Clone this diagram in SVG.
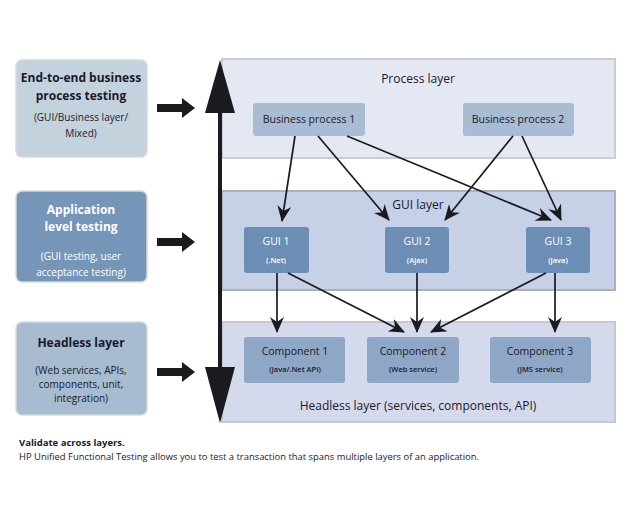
<svg xmlns="http://www.w3.org/2000/svg" width="631" height="522" viewBox="0 0 631 522">
<style>
text{font-family:"Open Sans","Liberation Sans",sans-serif;text-anchor:middle;fill:#1a1a2a}
.h{font-weight:bold;font-size:12px}
.s{font-size:10px}
.lbl{font-size:12px}
.n{font-size:10.5px}
.ns{font-size:7.5px;font-weight:600}
.w{fill:#ffffff}
.con{stroke:#1b1b1f;stroke-width:1.7;fill:none;marker-end:url(#ah)}
.lb{stroke:#d5d9de;stroke-width:1.5}
</style>
<defs>
<marker id="ah" viewBox="0 0 16 14" refX="15" refY="7" markerWidth="16" markerHeight="14" markerUnits="userSpaceOnUse" orient="auto">
<path d="M0,0 L16,7 L0,14 L5,7 z" fill="#1b1b1f"/>
</marker>
</defs>
<rect width="631" height="522" fill="#ffffff"/>
<g id="panel-process">
<rect x="222" y="59" width="393" height="99" fill="#e3e8f2" stroke="#c9cdd4" stroke-width="2"/>
<text class="lbl" x="418" y="83">Process layer</text>
</g>
<g id="panel-gui">
<rect x="222" y="191" width="393" height="99" fill="#c6d0e6" stroke="#aab0bc" stroke-width="2"/>
<text class="lbl" x="418" y="209">GUI layer</text>
</g>
<g id="panel-headless">
<rect x="222" y="322" width="393" height="100" fill="#d4daeb" stroke="#c3c8d2" stroke-width="2"/>
<text class="lbl" x="418" y="410">Headless layer (services, components, API)</text>
</g>
<g id="left-e2e">
<rect class="lb" x="16" y="60" width="131" height="97" rx="6" fill="#c4d2de"/>
<text class="h" x="81" y="82">End-to-end business</text>
<text class="h" x="81" y="100">process testing</text>
<text class="s" x="81" y="121">(GUI/Business layer/</text>
<text class="s" x="81" y="137">Mixed)</text>
</g>
<g id="left-app">
<rect class="lb" x="16" y="191" width="131" height="91" rx="6" fill="#7696b9"/>
<text class="h w" x="81" y="214">Application</text>
<text class="h w" x="81" y="231">level testing</text>
<text class="s w" x="81" y="260">(GUI testing, user</text>
<text class="s w" x="81" y="276">acceptance testing)</text>
</g>
<g id="left-headless">
<rect class="lb" x="16" y="322" width="131" height="93" rx="6" fill="#a7bbd1"/>
<text class="h" x="81" y="347">Headless layer</text>
<text class="s" x="81" y="374">(Web services, APIs,</text>
<text class="s" x="81" y="388">components, unit,</text>
<text class="s" x="81" y="402">integration)</text>
</g>
<g id="bp1">
<rect x="253" y="103" width="112" height="33" rx="3" fill="#a8bcd4"/>
<text class="n" x="309" y="123">Business process 1</text>
</g>
<g id="bp2">
<rect x="463" y="103" width="111" height="33" rx="3" fill="#a8bcd4"/>
<text class="n" x="518" y="123">Business process 2</text>
</g>
<g id="gui1">
<rect x="244" y="227" width="65" height="46" rx="3" fill="#6d8eb4"/>
<text class="n w" x="276" y="245">GUI 1</text>
<text class="ns w" x="276" y="263">(.Net)</text>
</g>
<g id="gui2">
<rect x="385" y="227" width="64" height="46" rx="3" fill="#6d8eb4"/>
<text class="n w" x="417" y="245">GUI 2</text>
<text class="ns w" x="417" y="263">(Ajax)</text>
</g>
<g id="gui3">
<rect x="526" y="227" width="64" height="46" rx="3" fill="#6d8eb4"/>
<text class="n w" x="558" y="245">GUI 3</text>
<text class="ns w" x="558" y="263">(Java)</text>
</g>
<g id="comp1">
<rect x="244" y="337" width="101" height="46" rx="3" fill="#8ea7c6"/>
<text class="n" x="295" y="355">Component 1</text>
<text class="ns" x="295" y="372">(Java/.Net API)</text>
</g>
<g id="comp2">
<rect x="367" y="337" width="92" height="46" rx="3" fill="#8ea7c6"/>
<text class="n" x="413" y="355">Component 2</text>
<text class="ns" x="413" y="372">(Web service)</text>
</g>
<g id="comp3">
<rect x="490" y="337" width="101" height="46" rx="3" fill="#8ea7c6"/>
<text class="n" x="540" y="355">Component 3</text>
<text class="ns" x="540" y="372">(JMS service)</text>
</g>
<g id="connectors">
<line class="con" x1="295" y1="136" x2="282" y2="221"/>
<line class="con" x1="318" y1="136" x2="389" y2="220"/>
<line class="con" x1="347" y1="136" x2="551" y2="220"/>
<line class="con" x1="513" y1="136" x2="445" y2="220"/>
<line class="con" x1="522" y1="136" x2="561" y2="220"/>
<line class="con" x1="277" y1="273" x2="277" y2="332"/>
<line class="con" x1="288" y1="273" x2="404" y2="332"/>
<line class="con" x1="417" y1="273" x2="417" y2="332"/>
<line class="con" x1="546" y1="273" x2="431" y2="332"/>
<line class="con" x1="555" y1="273" x2="555" y2="332"/>
</g>
<g id="validate-arrow">
<rect x="218" y="110" width="4" height="260" fill="#1b1b1f"/>
<polygon points="220,60 235,113 205,113" fill="#1b1b1f"/>
<polygon points="205,367 235,367 220,423" fill="#1b1b1f"/>
</g>
<g id="side-arrows" fill="#1b1b1f">
<polygon points="157,104 182,104 182,98 195,108 182,118 182,112 157,112"/>
<polygon points="157,238 182,238 182,232 195,242 182,252 182,246 157,246"/>
<polygon points="157,368 182,368 182,362 195,372 182,382 182,376 157,376"/>
</g>
<g id="caption">
<text x="19" y="446" style="text-anchor:start;font-weight:bold;font-size:9.5px">Validate across layers.</text>
<text x="19" y="460" style="text-anchor:start;font-size:9.5px" textLength="460" lengthAdjust="spacingAndGlyphs">HP Unified Functional Testing allows you to test a transaction that spans multiple layers of an application.</text>
</g>
</svg>
